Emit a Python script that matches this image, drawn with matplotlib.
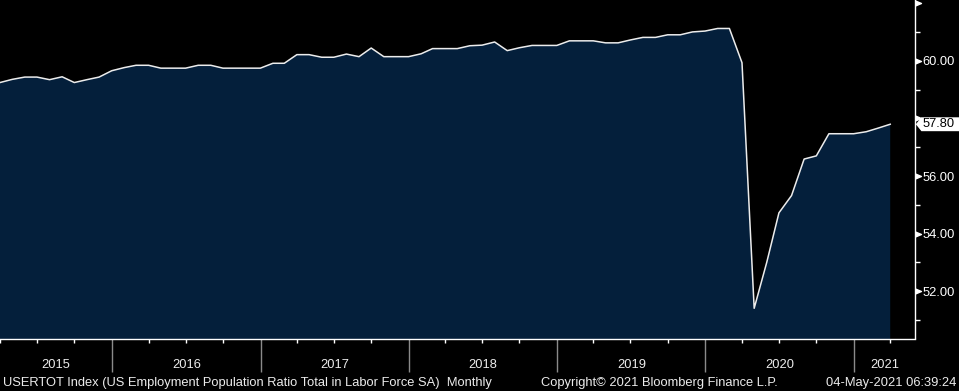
import matplotlib.pyplot as plt
import matplotlib.transforms as mtransforms
from matplotlib.patches import Polygon
import pandas as pd

# USERTOT Index, monthly, Mar 2015 - Mar 2021
values = [
    59.25, 59.36, 59.44, 59.44, 59.35, 59.45, 59.25, 59.35, 59.44, 59.66,
    59.77, 59.85, 59.85, 59.75, 59.75, 59.75, 59.85, 59.85, 59.75, 59.75,
    59.75, 59.75, 59.92, 59.92, 60.22, 60.22, 60.13, 60.13, 60.24, 60.15,
    60.45, 60.15, 60.15, 60.15, 60.25, 60.43, 60.43, 60.43, 60.53, 60.55,
    60.66, 60.36, 60.46, 60.54, 60.54, 60.54, 60.70, 60.70, 60.70, 60.63,
    60.63, 60.73, 60.82, 60.82, 60.91, 60.91, 61.01, 61.04, 61.13, 61.13,
    59.94, 51.40, 53.00, 54.72, 55.32, 56.59, 56.70, 57.47, 57.47, 57.47,
    57.54, 57.66, 57.80,
]
years = ['2015', '2016', '2017', '2018', '2019', '2020', '2021']
yticks = [52, 54, 56, 58, 60, 62]
ylabels = ['52.00', '54.00', '56.00', '', '60.00', '']   # 58 hidden under the bubble, 62 cut off
yminor = [51, 53, 55, 57, 59, 61]

footer_left = 'USERTOT Index (US Employment Population Ratio Total in Labor Force SA)  Monthly'
footer_mid = 'Copyright\u00a9 2021 Bloomberg Finance L.P.'
footer_right = '04-May-2021 06:39:24'

plt.rcParams['font.family'] = ['Liberation Sans', 'DejaVu Sans']
txt = '#ececec'
fs = 9.3

dates = pd.date_range('2015-03-31', periods=len(values), freq='ME')
x_left = dates[0]
x_right = pd.Timestamp('2021-05-31')

fig = plt.figure(figsize=(9.59, 3.91), dpi=100, facecolor='black')
ax = fig.add_axes([0, 52.5 / 391, 915 / 959, 338.5 / 391])
ax.set_facecolor('black')

# Plot
ax.fill_between(dates, values, 40, color='#041f3b', lw=0)
ax.plot(dates, values, color='#ececec', lw=1.1)
ax.set_xlim(x_left, x_right)
ax.set_ylim(50.35, 62.12)

# Spines
for side in ['top', 'left']:
    ax.spines[side].set_visible(False)
for side in ['bottom', 'right']:
    ax.spines[side].set_color('white')
    ax.spines[side].set_linewidth(1)

# X axis: gray year separators, white quarter ticks
year_starts = [pd.Timestamp(f'{y}-01-01') for y in years[1:]]
quarters = [d for d in pd.date_range(x_left, x_right, freq='QE') if d.month != 12]
ax.set_xticks(year_starts)
ax.set_xticklabels([])
ax.set_xticks(quarters, minor=True)
ax.tick_params(axis='x', which='major', length=24, width=1, color='#8a8a8a')
ax.tick_params(axis='x', which='minor', length=3.2, width=1, color='white')

bounds = [x_left] + year_starts + [x_right]
for i, y in enumerate(years):
    mid = bounds[i] + (bounds[i + 1] - bounds[i]) / 2
    ax.text(mid, -0.078, y, transform=ax.get_xaxis_transform(), ha='center',
            va='center', color=txt, fontsize=fs)

# Y axis on the right
ax.yaxis.tick_right()
ax.set_yticks(yticks)
ax.set_yticklabels(ylabels)
ax.set_yticks(yminor, minor=True)
ax.tick_params(axis='y', which='major', length=0, pad=5.5, labelcolor='white',
               labelsize=fs)
ax.tick_params(axis='y', which='minor', length=3.4, width=1, color='white')

tri = [(0, -0.42), (1, 0), (0, 0.42)]
ax.plot([1] * len(yticks), yticks, ls='none', marker=tri, ms=8.6, color='white',
        transform=ax.get_yaxis_transform(), clip_on=False)

# Last value marker
last = values[-1]
bubble_tr = (mtransforms.Affine2D().scale(fig.dpi / 72)
             + mtransforms.ScaledTranslation(1, last, ax.get_yaxis_transform()))
bubble = Polygon([(0.6, 0), (4.6, 5.0), (34, 5.0), (34, -5.0), (4.6, -5.0)],
                 closed=True, fc='white', ec='none', transform=bubble_tr,
                 clip_on=False, zorder=10)
ax.add_artist(bubble)
ax.annotate(f'{last:.2f}', xy=(1, last), xycoords=ax.get_yaxis_transform(),
            xytext=(5.2, 0), textcoords='offset points', ha='left', va='center',
            color='black', fontsize=fs, zorder=11, annotation_clip=False)

# Footer
fig.text(3 / 959, 0.021, footer_left, color=txt, fontsize=fs, va='center')
fig.text(541 / 959, 0.021, footer_mid, color=txt, fontsize=fs, va='center')
fig.text(956 / 959, 0.021, footer_right, color=txt, fontsize=fs, va='center',
         ha='right')

fig.savefig('out.png', dpi=100, facecolor='black')
